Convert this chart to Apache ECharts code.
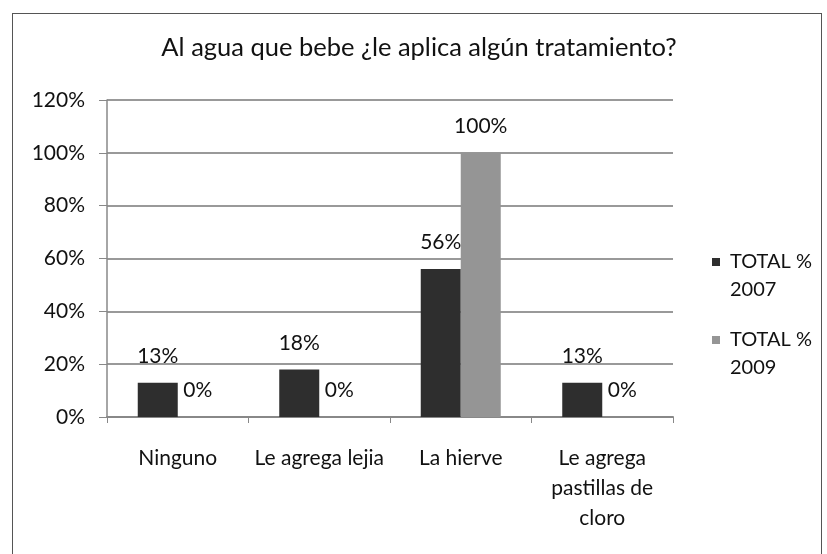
<html>
<head>
<script src="https://cdn.jsdelivr.net/npm/echarts@6/dist/echarts.min.js"></script>
<style>
html, body { margin: 0; background: #fff; }
#frame { position: absolute; left: 12px; top: 13px; width: 810px; height: 560px; border: 1px solid #555; border-bottom: none; box-sizing: border-box; }
#main { width: 827px; height: 554px; }
</style>
</head>
<body>
<div id="frame"></div>
<div id="main"></div>
<script>
// categories and values (percent)
var categories = ['Ninguno', 'Le agrega lejia', 'La hierve', 'Le agrega\npastillas de\ncloro'];
var total2007 = [13, 18, 56, 13];
var total2009 = [0, 0, 100, 0];
var seriesNames = ['TOTAL %\n2007', 'TOTAL %\n2009'];
var yTicks = [0, 20, 40, 60, 80, 100, 120];

var font = 'Lato';
var ink = '#111';
var myChart = echarts.init(document.getElementById('main'), null, {renderer: 'canvas'});

var lbl = {
    show: true,
    position: 'top',
    distance: 16,
    formatter: '{c}%',
    color: ink,
    fontFamily: font,
    fontSize: 21
};

// square drawn near the top of a tall icon box so it sits beside the first text line
var legendIcon = 'path://M0,10L8,10L8,18L0,18Z M0,0L8,0Z M0,56L8,56Z';

option = {
    backgroundColor: 'transparent',
    animation: false,
    title: {
        text: 'Al agua que bebe ¿le aplica algún tratamiento?',
        left: 414,
        textAlign: 'center',
        top: 30,
        textStyle: { fontFamily: font, fontSize: 25.5, fontWeight: 'normal', color: ink }
    },
    legend: {
        orient: 'vertical',
        left: 712,
        top: 248,
        padding: 0,
        itemWidth: 8,
        itemHeight: 56,
        itemGap: 22,
        icon: legendIcon,
        data: seriesNames,
        textStyle: { fontFamily: font, fontSize: 20, color: ink, lineHeight: 28, padding: [0, 0, 0, 5] }
    },
    grid: { left: 107, right: 154, top: 100, bottom: 137 },
    xAxis: {
        type: 'category',
        data: categories,
        axisLine: { lineStyle: { color: '#888', width: 2 } },
        axisTick: { show: true, length: 6, lineStyle: { color: '#888' } },
        axisLabel: { fontFamily: font, fontSize: 21, color: ink, margin: 26, lineHeight: 30, interval: 0 }
    },
    yAxis: {
        type: 'value',
        min: 0,
        max: 120,
        interval: 20,
        axisLine: { show: true, lineStyle: { color: '#888', width: 1.5 } },
        axisTick: { show: true, length: 8, lineStyle: { color: '#888' } },
        axisLabel: {
            fontFamily: font, fontSize: 21, color: ink, margin: 22,
            formatter: function (v) { return yTicks.indexOf(v) >= 0 ? v + '%' : ''; }
        },
        splitLine: { lineStyle: { color: '#777', width: 1.5 } }
    },
    series: [
        {
            name: seriesNames[0],
            type: 'bar',
            data: total2007,
            barWidth: 40,
            barGap: '0%',
            itemStyle: { color: '#2e2e2e' },
            label: lbl
        },
        {
            name: seriesNames[1],
            type: 'bar',
            data: total2009,
            barWidth: 40,
            itemStyle: { color: '#959595' },
            label: lbl
        }
    ]
};
myChart.setOption(option);
</script>
</body>
</html>
